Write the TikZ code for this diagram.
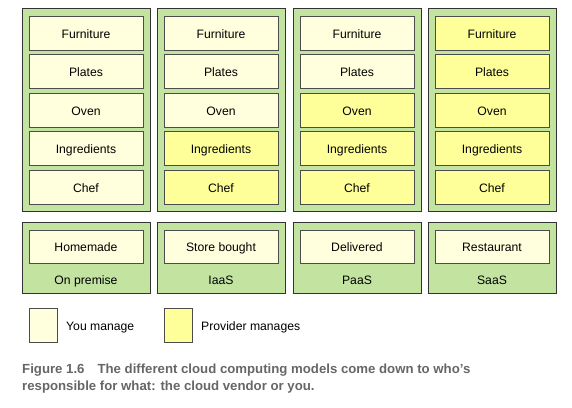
\documentclass[tikz,border=0pt]{standalone}
\usepackage{fontspec}
\setmainfont{Liberation Sans}
\definecolor{panelgreen}{HTML}{C2E4A0}
\definecolor{youcol}{HTML}{FFFFDD}
\definecolor{provcol}{HTML}{FFFF99}
\definecolor{capgray}{HTML}{666666}
\tikzset{
  column/.style={draw=black!80, fill=panelgreen, line width=0.9pt, minimum width=128pt, minimum height=203pt, inner sep=0pt},
  lower/.style={column, minimum height=71pt},
  you/.style={draw=black!70, fill=youcol, line width=0.8pt, minimum width=114pt, minimum height=34pt, inner sep=0pt,
    text height=10.5pt, text depth=0pt, font=\fontsize{12.2}{14}\selectfont},
  prov/.style={you, fill=provcol},
  legendbox/.style={draw=black!70, line width=0.8pt, minimum width=28pt, minimum height=34pt, inner sep=0pt},
  label/.style={font=\fontsize{12.2}{14}\selectfont, inner sep=0pt, text height=8.8pt, text depth=0pt}
}
\begin{document}
\begin{tikzpicture}[x=1pt, y=-1pt]
  \useasboundingbox (0,0) rectangle (572,407);
  % columns
  \node[column] (col1) at (86,109.5) {};
  \node[column] (col2) at (221,109.5) {};
  \node[column] (col3) at (357,109.5) {};
  \node[column] (col4) at (492,109.5) {};
  % on premise
  \node[you] (f1) at (86,33) {Furniture};
  \node[you] (p1) at (86,71.5) {Plates};
  \node[you] (o1) at (86,110) {Oven};
  \node[you] (i1) at (86,148.5) {Ingredients};
  \node[you] (c1) at (86,187) {Chef};
  % iaas
  \node[you] (f2) at (221,33) {Furniture};
  \node[you] (p2) at (221,71.5) {Plates};
  \node[you] (o2) at (221,110) {Oven};
  \node[prov] (i2) at (221,148.5) {Ingredients};
  \node[prov] (c2) at (221,187) {Chef};
  % paas
  \node[you] (f3) at (357,33) {Furniture};
  \node[you] (p3) at (357,71.5) {Plates};
  \node[prov] (o3) at (357,110) {Oven};
  \node[prov] (i3) at (357,148.5) {Ingredients};
  \node[prov] (c3) at (357,187) {Chef};
  % saas
  \node[prov] (f4) at (492,33) {Furniture};
  \node[prov] (p4) at (492,71.5) {Plates};
  \node[prov] (o4) at (492,110) {Oven};
  \node[prov] (i4) at (492,148.5) {Ingredients};
  \node[prov] (c4) at (492,187) {Chef};
  % lower panels
  \node[lower] (l1) at (86,257.5) {};
  \node[lower] (l2) at (221,257.5) {};
  \node[lower] (l3) at (357,257.5) {};
  \node[lower] (l4) at (492,257.5) {};
  \node[you, minimum height=33pt] (m1) at (86,246.5) {Homemade};
  \node[you, minimum height=33pt] (m2) at (221,246.5) {Store bought};
  \node[you, minimum height=33pt] (m3) at (357,246.5) {Delivered};
  \node[you, minimum height=33pt] (m4) at (492,246.5) {Restaurant};
  \node[label] (n1) at (86,280.5) {On premise};
  \node[label] (n2) at (221,280.5) {IaaS};
  \node[label] (n3) at (357,280.5) {PaaS};
  \node[label] (n4) at (492,280.5) {SaaS};
  % legend
  \node[legendbox, fill=youcol] (youkey) at (43,325) {};
  \node[label, anchor=west] (youtext) at (66,326.5) {You manage};
  \node[legendbox, fill=provcol] (provkey) at (178.5,325) {};
  \node[label, anchor=west] (provtext) at (201,326.5) {Provider manages};
  % caption
  \node[anchor=base west, inner sep=0pt, text=capgray, font=\bfseries\fontsize{13.2}{16}\selectfont] (cap1) at (22,373)
    {Figure 1.6\hspace{13pt}The different cloud computing models come down to who’s};
  \node[anchor=base west, inner sep=0pt, text=capgray, font=\bfseries\fontsize{13.2}{16}\selectfont] (cap2) at (22,390)
    {responsible for what: the cloud vendor or you.};
\end{tikzpicture}
\end{document}
